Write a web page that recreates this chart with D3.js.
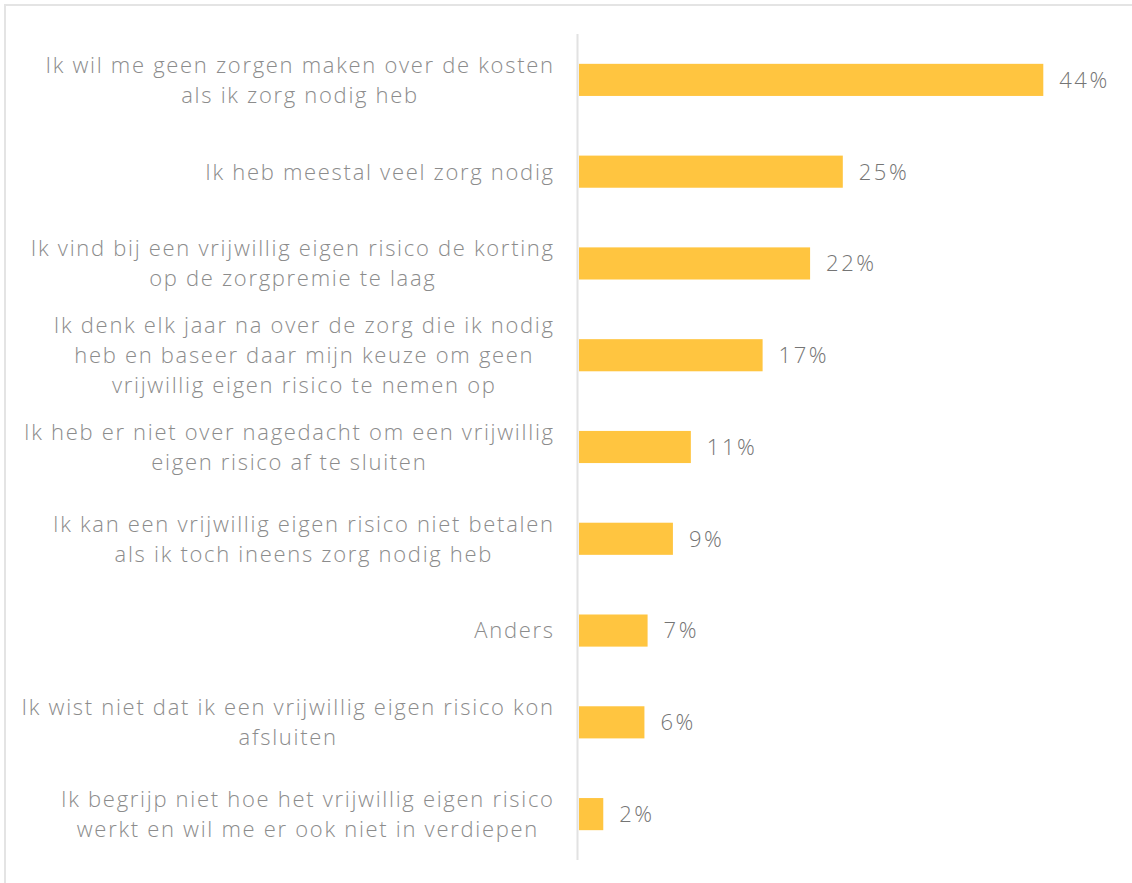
<!DOCTYPE html>
<html>
<head>
<meta charset="utf-8">
<script src="https://cdn.jsdelivr.net/npm/d3@7"></script>
<style>
    body { margin: 0; background: #fff; }
    svg { display: block; }
</style>
</head>
<body>
<svg id="chart" width="1132" height="883"></svg>
<script>
// answers, one entry per bar (line breaks as in the original)
var categories = [
    ["Ik wil me geen zorgen maken over de kosten", "als ik zorg nodig heb"],
    ["Ik heb meestal veel zorg nodig"],
    ["Ik vind bij een vrijwillig eigen risico de korting", "op de zorgpremie te laag"],
    ["Ik denk elk jaar na over de zorg die ik nodig", "heb en baseer daar mijn keuze om geen", "vrijwillig eigen risico te nemen op"],
    ["Ik heb er niet over nagedacht om een vrijwillig", "eigen risico af te sluiten"],
    ["Ik kan een vrijwillig eigen risico niet betalen", "als ik toch ineens zorg nodig heb"],
    ["Anders"],
    ["Ik wist niet dat ik een vrijwillig eigen risico kon", "afsluiten"],
    ["Ik begrijp niet hoe het vrijwillig eigen risico", "werkt en wil me er ook niet in verdiepen"]
];
var values = [44, 25, 21.9, 17.4, 10.6, 8.9, 6.5, 6.2, 2.3];
var valueLabels = ["44%", "25%", "22%", "17%", "11%", "9%", "7%", "6%", "2%"];

var renderingParams = {
    axisX: 579,
    top: 34,
    bottom: 860,
    labelRight: 553,
    barColor: "#ffc540",
    fontFamily: "'Open Sans', sans-serif",
    fontSize: 22,
    spacing: 1.7
};

var svg = d3.select("#chart");
var param = renderingParams;

// frame (only top and left edges are inside the picture)
svg.append("path")
    .attr("d", "M5,883 V5 H1132")
    .attr("fill", "none")
    .attr("stroke", "#e4e4e4")
    .attr("stroke-width", 2);

var idx = d3.range(values.length);

var y = d3.scaleBand()
    .domain(idx)
    .range([param.top, param.bottom])
    .paddingInner(0.65)
    .paddingOuter(0.325);

var x = d3.scaleLinear()
    .domain([0, 44])
    .range([param.axisX, 1043.3]);

// bars
svg.append("g")
    .selectAll("rect")
    .data(idx)
    .enter()
    .append("rect")
    .attr("x", x(0))
    .attr("y", function(i) { return y(i); })
    .attr("width", function(i) { return x(values[i]) - x(0); })
    .attr("height", y.bandwidth())
    .attr("fill", param.barColor);

// axis line
svg.append("line")
    .attr("x1", param.axisX - 1.5)
    .attr("x2", param.axisX - 1.5)
    .attr("y1", param.top)
    .attr("y2", param.bottom)
    .attr("stroke", "#e2e2e2")
    .attr("stroke-width", 2);

// value labels
svg.append("g")
    .selectAll("text")
    .data(idx)
    .enter()
    .append("text")
    .attr("x", function(i) { return x(values[i]) + 16; })
    .attr("y", function(i) { return y(i) + y.bandwidth() / 2; })
    .attr("dy", "0.36em")
    .attr("font-family", param.fontFamily)
    .attr("font-weight", 300)
    .attr("font-size", param.fontSize)
    .attr("letter-spacing", 2.5)
    .attr("fill", "#757575")
    .text(function(i) { return valueLabels[i]; });

// category labels: block right aligned, lines centred within block
var lineH = 30;
var labels = svg.append("g")
    .selectAll("g")
    .data(idx)
    .enter()
    .append("g");

labels.each(function(i) {
    var g = d3.select(this);
    var lines = categories[i];
    var cy = y(i) + y.bandwidth() / 2;
    var txt = g.selectAll("text")
        .data(lines)
        .enter()
        .append("text")
        .attr("y", function(d, k) { return cy + (k - (lines.length - 1) / 2) * lineH; })
        .attr("dy", "0.36em")
        .attr("text-anchor", "middle")
        .attr("font-family", param.fontFamily)
        .attr("font-weight", 300)
        .attr("font-size", param.fontSize)
        .attr("letter-spacing", param.spacing)
        .attr("fill", "#8c8c8c")
        .text(function(d) { return d; });
    var w = 0;
    txt.each(function() { w = Math.max(w, this.getComputedTextLength()); });
    txt.attr("x", param.labelRight + param.spacing - w / 2);
});
</script>
</body>
</html>
